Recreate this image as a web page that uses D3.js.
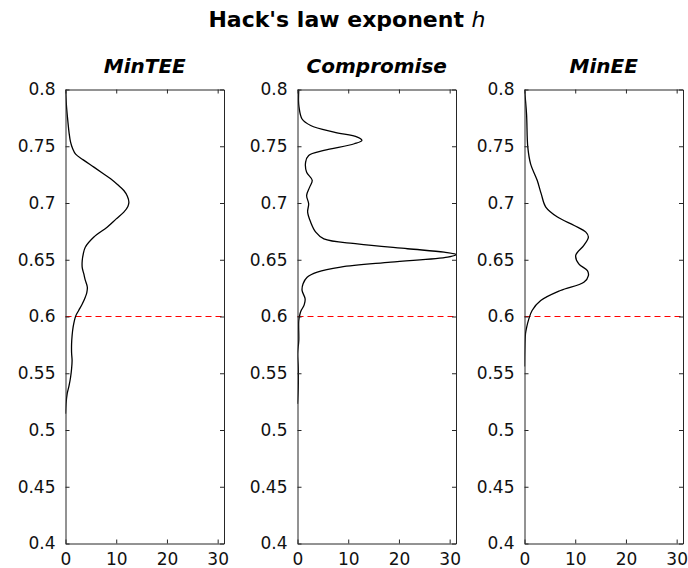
<!DOCTYPE html>
<html>
<head>
<meta charset="utf-8">
<script src="https://cdn.jsdelivr.net/npm/d3@7"></script>
<style>
  html, body { margin: 0; padding: 0; background: #fff; }
  svg { display: block; font-family: "DejaVu Sans", sans-serif; }
</style>
</head>
<body>
<svg id="chart" width="688" height="568"></svg>
<script>
// ---- data ----
const panelNames = ["MinTEE", "Compromise", "MinEE"];

const minteeH = [0.8, 0.785, 0.7727, 0.762, 0.7536, 0.748, 0.743, 0.738, 0.7316, 0.726, 0.7213, 0.716, 0.711, 0.706, 0.7007, 0.697, 0.692, 0.686, 0.6787, 0.67, 0.661, 0.655, 0.6494, 0.643, 0.6377, 0.632, 0.626, 0.621, 0.617, 0.611, 0.6053, 0.6003, 0.5907, 0.583, 0.576, 0.568, 0.5612, 0.554, 0.5465, 0.539, 0.532, 0.523, 0.5143];
const minteeV = [0.0, 0.2, 0.45, 0.7, 1.0, 1.4, 2.0, 3.5, 5.6, 7.4, 8.9, 10.3, 11.5, 12.2, 12.5, 12.3, 11.5, 10.0, 8.2, 5.6, 3.9, 3.5, 3.3, 3.3, 3.6, 3.9, 4.3, 4.2, 3.9, 3.3, 2.6, 2.0, 1.5, 1.3, 1.2, 1.2, 1.3, 1.2, 1.0, 0.7, 0.33, 0.1, 0.0];

const compromiseH = [0.8, 0.79, 0.7844, 0.774, 0.7683, 0.7624, 0.758, 0.7551, 0.7522, 0.7463, 0.7419, 0.736, 0.7271, 0.72, 0.714, 0.7067, 0.6993, 0.692, 0.6831, 0.6743, 0.6684, 0.664, 0.6597, 0.6567, 0.6546, 0.6523, 0.6479, 0.6435, 0.639, 0.6346, 0.6288, 0.623, 0.6156, 0.61, 0.6051, 0.6024, 0.5963, 0.5787, 0.567, 0.5553, 0.5377, 0.523];
const compromiseV = [0.25, 0.2, 0.3, 0.9, 2.6, 7.2, 11.8, 12.7, 11.2, 5.2, 2.2, 1.6, 1.8, 2.9, 2.4, 1.8, 2.2, 2.0, 2.6, 3.6, 5.2, 11.8, 21.7, 28.9, 31.3, 29.6, 18.4, 8.5, 3.9, 1.9, 1.1, 0.9, 1.5, 1.3, 0.7, 0.5, 0.25, 0.25, 0.0, 0.15, 0.15, 0.0];

const mineeH = [0.8, 0.7786, 0.7492, 0.7345, 0.72, 0.708, 0.6964, 0.6876, 0.6802, 0.6743, 0.67, 0.6626, 0.6538, 0.6464, 0.6405, 0.6361, 0.6302, 0.6229, 0.614, 0.6053, 0.597, 0.59, 0.585, 0.57, 0.556];
const mineeV = [0.0, 0.4, 0.65, 1.2, 2.5, 3.3, 4.2, 6.5, 9.8, 12.1, 12.6, 11.7, 10.1, 10.7, 12.4, 12.6, 11.7, 7.1, 3.2, 1.5, 0.8, 0.4, 0.2, 0.05, 0.0];

const refLine = 0.6;
const yTicks = [0.4, 0.45, 0.5, 0.55, 0.6, 0.65, 0.7, 0.75, 0.8];
const xTicks = [0, 10, 20, 30];
const xMax = 31.25;

const seriesH = [minteeH, compromiseH, mineeH];
const seriesV = [minteeV, compromiseV, mineeV];

// ---- layout ----
const svg = d3.select("#chart");
const panelLeft = [65.5, 297.5, 524.5];
const panelW = 158.5;
const plotTop = 89.5, plotBottom = 543.5;
const axisColor = "#262626";

const y = d3.scaleLinear().domain([0.4, 0.8]).range([plotBottom, plotTop]);

svg.append("text")
  .attr("x", 347).attr("y", 27)
  .attr("text-anchor", "middle")
  .attr("font-size", 22).attr("font-weight", "bold").attr("fill", "#000")
  .text("Hack's law exponent ")
  .append("tspan").attr("font-style", "italic").attr("font-weight", "normal").text("h");

const fmt = v => String(+v.toFixed(2));

panelNames.forEach((name, i) => {
  const x = d3.scaleLinear().domain([0, xMax]).range([panelLeft[i], panelLeft[i] + panelW]);
  const g = svg.append("g");

  const clipId = "clip" + i;
  svg.append("clipPath").attr("id", clipId)
    .append("rect").attr("x", panelLeft[i]).attr("y", plotTop).attr("width", panelW).attr("height", plotBottom - plotTop);

  // reference dashed line
  g.append("line")
    .attr("x1", x(0)).attr("x2", x(xMax))
    .attr("y1", y(refLine)).attr("y2", y(refLine))
    .attr("stroke", "#ff0000").attr("stroke-width", 1.2)
    .attr("stroke-dasharray", "6,4");

  // density curve
  const data = seriesH[i].map((h, k) => ({h, v: seriesV[i][k]}));
  const line = d3.line().x(d => x(d.v)).y(d => y(d.h)).curve(d3.curveCatmullRom.alpha(0.5));
  g.append("path").datum(data)
    .attr("clip-path", `url(#${clipId})`)
    .attr("d", line)
    .attr("fill", "none").attr("stroke", "#000").attr("stroke-width", 1.3);

  // axes
  const styleAxis = sel => {
    sel.select(".domain").attr("stroke", axisColor).attr("stroke-width", 1);
    sel.selectAll(".tick line").attr("stroke", axisColor);
    sel.selectAll("text").attr("fill", "#111").attr("font-size", 17)
      .attr("font-family", "DejaVu Sans, sans-serif");
  };
  g.append("g").attr("transform", `translate(${panelLeft[i]},0)`)
    .call(d3.axisLeft(y).tickValues(yTicks).tickFormat(fmt).tickSizeInner(-4).tickSizeOuter(0).tickPadding(10))
    .call(styleAxis);
  g.append("g").attr("transform", `translate(${panelLeft[i] + panelW},0)`)
    .call(d3.axisRight(y).tickValues(yTicks).tickFormat("").tickSizeInner(-4).tickSizeOuter(0))
    .call(styleAxis);
  g.append("g").attr("transform", `translate(0,${plotBottom})`)
    .call(d3.axisBottom(x).tickValues(xTicks).tickFormat(d3.format("d")).tickSizeInner(-4).tickSizeOuter(0).tickPadding(9))
    .call(styleAxis);
  g.append("g").attr("transform", `translate(0,${plotTop})`)
    .call(d3.axisTop(x).tickValues(xTicks).tickFormat("").tickSizeInner(-4).tickSizeOuter(0))
    .call(styleAxis);

  // subplot title
  svg.append("text")
    .attr("x", panelLeft[i] + panelW / 2).attr("y", 73)
    .attr("text-anchor", "middle")
    .attr("font-size", 20).attr("font-weight", "bold").attr("font-style", "italic").attr("fill", "#000")
    .text(name);
});
</script>
</body>
</html>
